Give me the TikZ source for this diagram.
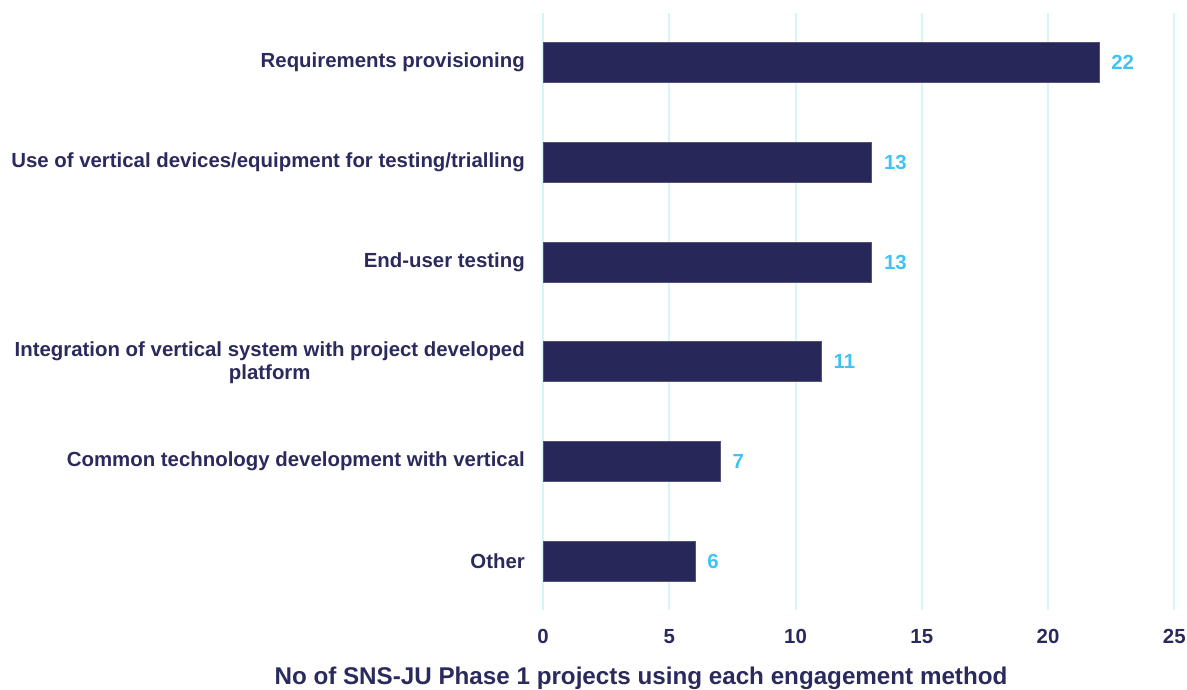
\documentclass[tikz,border=0pt]{standalone}
\usepackage{fontspec}
\setmainfont{Liberation Sans}
\usetikzlibrary{positioning}

\definecolor{barnavy}{HTML}{28275A}
\definecolor{textnavy}{HTML}{2B2A5C}
\definecolor{valblue}{HTML}{3EC3F3}
\definecolor{gridcyan}{HTML}{D9F3FB}

\tikzset{
  gridline/.style={draw=gridcyan, line width=2pt},
  barbox/.style={fill=barnavy, draw=barnavy!80!white, line width=0.6pt, inner sep=0pt, minimum height=40pt, anchor=west},
  cattext/.style={text=textnavy, font=\fontsize{20.4}{23}\selectfont\bfseries, align=center, anchor=east, inner sep=0pt},
  valtext/.style={text=valblue, font=\fontsize{20.4}{23}\selectfont\bfseries, inner sep=0pt},
  ticktext/.style={text=textnavy, font=\fontsize{20.4}{23}\selectfont\bfseries, anchor=base, inner sep=0pt},
  titletext/.style={text=textnavy, font=\fontsize{24.2}{28}\selectfont\bfseries, anchor=base, inner sep=0pt}
}

\begin{document}
\begin{tikzpicture}[x=1pt,y=-1pt]
\useasboundingbox (0,0) rectangle (1187,690);

% grid
\draw[gridline] (543,13) -- (543,610);
\draw[gridline] (669.25,13) -- (669.25,610);
\draw[gridline] (795.5,13) -- (795.5,610);
\draw[gridline] (921.75,13) -- (921.75,610);
\draw[gridline] (1048,13) -- (1048,610);
\draw[gridline] (1174.25,13) -- (1174.25,610);

% bars
\node[barbox, minimum width=555.5pt] (bar1) at (543,62) {};
\node[barbox, minimum width=328.25pt] (bar2) at (543,162) {};
\node[barbox, minimum width=328.25pt] (bar3) at (543,262) {};
\node[barbox, minimum width=277.75pt] (bar4) at (543,361.5) {};
\node[barbox, minimum width=176.75pt] (bar5) at (543,461) {};
\node[barbox, minimum width=151.5pt] (bar6) at (543,561) {};

% values
\node[valtext, right=12pt of bar1] (val1) {22};
\node[valtext, right=12pt of bar2] (val2) {13};
\node[valtext, right=12pt of bar3] (val3) {13};
\node[valtext, right=12pt of bar4] (val4) {11};
\node[valtext, right=12pt of bar5] (val5) {7};
\node[valtext, right=12pt of bar6] (val6) {6};

% categories
\node[cattext] (cat1) at (525,62) {Requirements provisioning};
\node[cattext] (cat2) at (525,162) {Use of vertical devices/equipment for testing/trialling};
\node[cattext] (cat3) at (525,262) {End-user testing};
\node[cattext] (cat4) at (525,362.5) {Integration of vertical system with project developed\\platform};
\node[cattext] (cat5) at (525,461) {Common technology development with vertical};
\node[cattext] (cat6) at (525,561) {Other};

% ticks
\node[ticktext] (t0) at (543,643.3) {0};
\node[ticktext] (t5) at (669.25,643.3) {5};
\node[ticktext] (t10) at (795.5,643.3) {10};
\node[ticktext] (t15) at (921.75,643.3) {15};
\node[ticktext] (t20) at (1048,643.3) {20};
\node[ticktext] (t25) at (1174.25,643.3) {25};

\node[titletext] (title) at (641,684) {No of SNS-JU Phase 1 projects using each engagement method};
\end{tikzpicture}
\end{document}
